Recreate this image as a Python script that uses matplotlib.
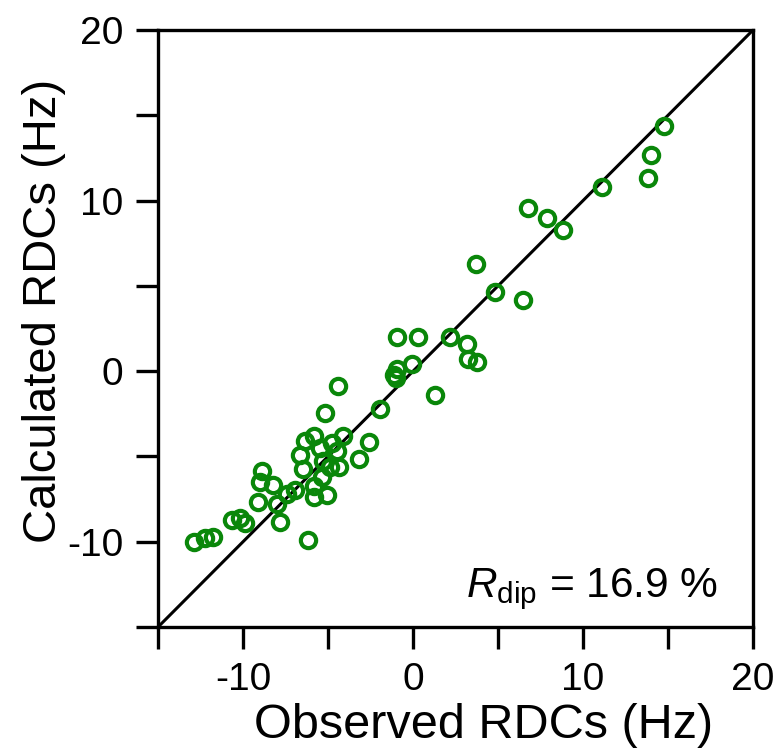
import matplotlib
matplotlib.use("Agg")
import matplotlib.pyplot as plt
import numpy as np

plt.rcParams['font.family'] = ['Liberation Sans', 'DejaVu Sans']
plt.rcParams['mathtext.fontset'] = 'custom'
plt.rcParams['mathtext.rm'] = 'Liberation Sans'
plt.rcParams['mathtext.it'] = 'Liberation Sans:italic'

observed = [14.74, 13.99, 13.8, 11.14, 6.74, 7.86, 8.84, 3.68, 4.82, 6.49,
            -0.94, 0.3, 2.2, 3.15, 3.23, 3.78, -0.05, -0.94, -1.14, 1.32,
            -4.41, -1.92, -5.16, -2.61, -3.2, -4.12, -4.77, -5.85, -6.34, -5.5,
            -6.64, -5.32, -4.47, -4.87, -4.38, -6.48, -5.36, -5.85, -5.06, -5.85,
            -6.93, -7.42, -8.89, -8.99, -8.21, -9.09, -8.01, -7.85, -10.66, -9.88,
            -10.16, -12.86, -12.23, -11.74, -6.15, -1.0]
calculated = [14.35, 12.7, 11.33, 10.82, 9.55, 8.98, 8.29, 6.27, 4.67, 4.18,
              2.0, 2.0, 2.0, 1.61, 0.69, 0.55, 0.43, 0.1, -0.24, -1.4,
              -0.88, -2.2, -2.45, -4.16, -5.14, -3.78, -4.22, -3.82, -4.12, -4.5,
              -4.94, -5.25, -4.7, -5.59, -5.59, -5.73, -6.18, -6.76, -7.25, -7.35,
              -6.96, -7.22, -5.88, -6.47, -6.67, -7.65, -7.8, -8.86, -8.73, -8.92,
              -8.63, -10.0, -9.8, -9.7, -9.9, -0.4]

lims = [-15, 20]
major_ticks = [-15, -10, -5, 0, 5, 10, 15, 20]
tick_labels = ['', '-10', '', '0', '', '10', '', '20']

fig = plt.figure(figsize=(7.8, 7.53), dpi=100)
ax = fig.add_axes([0.2026, 0.1673, 0.7628, 0.7928])

ax.plot(lims, lims, color='black', lw=2.2, zorder=1)
ax.plot(observed, calculated, linestyle='none', marker='o', ms=11,
        mfc='none', mec='#0a870a', mew=3.0, zorder=2)

ax.set_xlim(lims)
ax.set_ylim(lims)
ax.set_xticks(major_ticks)
ax.set_xticklabels(tick_labels)
ax.set_yticks(major_ticks)
ax.set_yticklabels(tick_labels)
ax.tick_params(direction='out', length=16, width=2.4, labelsize=28, pad=9)
for s in ax.spines.values():
    s.set_linewidth(2.4)

ax.set_xlabel('Observed RDCs (Hz)', fontsize=35)
ax.xaxis.set_label_coords(0.547, -0.128, transform=ax.transAxes)
ax.xaxis.label.set_va('top')
ax.set_ylabel('Calculated RDCs (Hz)', fontsize=34)
ax.yaxis.set_label_coords(-0.155, 0.53, transform=ax.transAxes)

ax.text(0.941, 0.05, r'$\mathit{R}_{\mathrm{dip}}$ = 16.9 %', transform=ax.transAxes,
        ha='right', va='baseline', fontsize=30.5)

fig.savefig('out.png', dpi=100)
